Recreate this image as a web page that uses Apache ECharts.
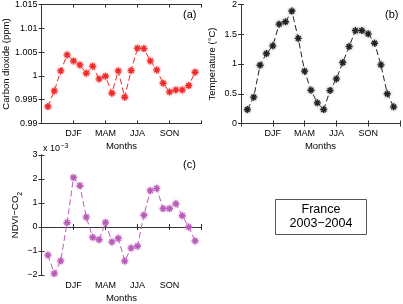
<!DOCTYPE html>
<html>
<head>
<meta charset="utf-8">
<script src="https://cdn.jsdelivr.net/npm/echarts@6/dist/echarts.min.js"></script>
<style>
html,body{margin:0;padding:0;background:#fff;}
#chart{width:403px;height:304px;}
</style>
</head>
<body>
<div id="chart"></div>
<script>
// ---- data ----
var monthIndex = [1,2,3,4,5,6,7,8,9,10,11,12,13,14,15,16,17,18,19,20,21,22,23,24];
var seasonTickPos = [5, 10, 15, 20];
var seasonLabels = ['DJF', 'MAM', 'JJA', 'SON'];
var co2 = [0.99356,0.99685,1.00105,1.00441,1.00315,1.00231,1.00056,1.00203,0.99937,0.99993,0.99636,1.00105,
           0.99552,1.00112,1.00581,1.00574,1.00315,1.00126,0.99846,0.99664,0.99706,0.99706,0.99797,1.00077];
var temperature = [0.235,0.443,0.98,1.176,1.305,1.67,1.71,1.89,1.43,0.88,0.56,0.347,
                   0.235,0.555,0.75,1.025,1.294,1.563,1.563,1.507,1.35,0.986,0.499,0.28];
var ndviCo2 = [-1.17,-1.94,-1.41,0.18,2.06,1.72,0.41,-0.43,-0.53,0.19,-0.62,-0.47,
               -1.42,-0.88,-0.80,0.49,1.52,1.61,0.77,0.77,0.97,0.47,0.0,-0.58]; // x 10^-3
var boxLines = ['France', '2003\u22122004'];

// ---- helpers ----
var FONT = 'Liberation Sans, Arial, Helvetica, sans-serif';
var AX = '#333';
function pairs(ys){ return monthIndex.map(function(x,i){ return [x, ys[i]]; }); }
function seasonFmt(v){ var k = seasonTickPos.indexOf(v); return k >= 0 ? seasonLabels[k] : ''; }
var ASTER = 'path://M5,0L5,10M0,5L10,5M1.6,1.6L8.4,8.4M1.6,8.4L8.4,1.6';

var grids = [
  {left: 41.5, top: 4.5, width: 160, height: 119},
  {left: 241, top: 4.5, width: 160, height: 119},
  {left: 41.5, top: 155, width: 160, height: 121}
];

var xAxes = [], yAxes = [];
var yDefs = [
  {min: 0.99, max: 1.015, interval: 0.005, name: 'Carbon dioxide (ppm)', gap: 30,
   fmt: function(v){ return String(+v.toFixed(3)); }},
  {min: 0, max: 2, interval: 0.5, name: 'Temperature (\u00b0C)', gap: 24,
   fmt: function(v){ return String(+v.toFixed(1)); }},
  {min: -2, max: 3, interval: 1, name: 'NDVI\u2212CO{sub|2}', gap: 19,
   fmt: function(v){ var r = Math.round(v); return r < 0 ? '\u2212' + (-r) : String(r); }}
];
grids.forEach(function(g, i){
  var tickCommon = {show: true, inside: true, length: 3, lineStyle: {color: AX, width: 1}};
  xAxes.push({type: 'value', gridIndex: i, min: 0, max: 25, interval: 5, position: 'bottom',
    axisLine: {show: true, lineStyle: {color: AX, width: 1}},
    axisTick: tickCommon, splitLine: {show: false},
    axisLabel: {show: true, formatter: seasonFmt, color: '#000', fontSize: 9, fontFamily: FONT, margin: 6},
    name: 'Months', nameLocation: 'middle', nameGap: 18,
    nameTextStyle: {color: '#000', fontSize: 9.5, fontFamily: FONT}});
  xAxes.push({type: 'value', gridIndex: i, min: 0, max: 25, interval: 5, position: 'top',
    axisLine: {show: true, lineStyle: {color: AX, width: 1}},
    axisTick: tickCommon, splitLine: {show: false}, axisLabel: {show: false}});
  var d = yDefs[i];
  yAxes.push({type: 'value', gridIndex: i, min: d.min, max: d.max, interval: d.interval, position: 'left',
    axisLine: {show: true, lineStyle: {color: AX, width: 1}},
    axisTick: tickCommon, splitLine: {show: false},
    axisLabel: {show: true, formatter: d.fmt, color: '#000', fontSize: 9, fontFamily: FONT, margin: 4},
    name: d.name, nameLocation: 'middle', nameGap: d.gap, nameRotate: 90,
    nameTextStyle: {color: '#000', fontSize: 9.5, fontFamily: FONT,
      rich: {sub: {fontSize: 7, verticalAlign: 'bottom', padding: [0,0,-3,0], color: '#000', fontFamily: FONT}}}});
  yAxes.push({type: 'value', gridIndex: i, min: d.min, max: d.max, interval: d.interval, position: 'right',
    axisLine: {show: true, lineStyle: {color: AX, width: 1}},
    axisTick: tickCommon, splitLine: {show: false}, axisLabel: {show: false}});
});

function makeSeries(idx, ys, color, glow){
  return {type: 'line', xAxisIndex: idx * 2, yAxisIndex: idx * 2, data: pairs(ys),
    symbol: ASTER, symbolSize: 7, showSymbol: true,
    lineStyle: {color: color, width: 1, type: [6, 3]},
    itemStyle: {color: 'none', borderColor: color, borderWidth: 1.4, shadowBlur: 3, shadowColor: glow},
    emphasis: {disabled: true}, animation: false, z: 3};
}

var option = {
  backgroundColor: '#fff',
  animation: false,
  grid: grids,
  xAxis: xAxes,
  yAxis: yAxes,
  series: [
    makeSeries(0, co2, '#ee2a2a', 'rgba(255,140,140,0.9)'),
    makeSeries(1, temperature, '#222222', 'rgba(140,140,140,0.9)'),
    makeSeries(2, ndviCo2, '#b85cb8', 'rgba(220,160,220,0.9)')
  ],
  graphic: [
    {type: 'text', left: 183, top: 9, style: {text: '(a)', fontSize: 11, fontFamily: FONT, fill: '#000'}},
    {type: 'text', left: 385, top: 9, style: {text: '(b)', fontSize: 11, fontFamily: FONT, fill: '#000'}},
    {type: 'text', left: 183, top: 159, style: {text: '(c)', fontSize: 11, fontFamily: FONT, fill: '#000'}},
    {type: 'text', left: 43, top: 143, style: {text: 'x 10{sup|\u22123}', fontSize: 9, fontFamily: FONT, fill: '#000',
      rich: {sup: {fontSize: 6.5, verticalAlign: 'top', padding: [0,0,5,1], fontFamily: FONT, fill: '#000'}}}},
    {type: 'rect', shape: {x: 275.5, y: 199.5, width: 91, height: 35},
     style: {fill: '#fff', stroke: '#555', lineWidth: 1}},
    {type: 'text', x: 321, y: 209.5, style: {text: boxLines[0], fontSize: 12.5, fontFamily: FONT, fill: '#000',
      align: 'center', verticalAlign: 'middle'}},
    {type: 'text', x: 321, y: 223.5, style: {text: boxLines[1], fontSize: 12.5, fontFamily: FONT, fill: '#000',
      align: 'center', verticalAlign: 'middle'}}
  ]
};
var chart = echarts.init(document.getElementById('chart'), null, {renderer: 'canvas'});
chart.setOption(option);
</script>
</body>
</html>
